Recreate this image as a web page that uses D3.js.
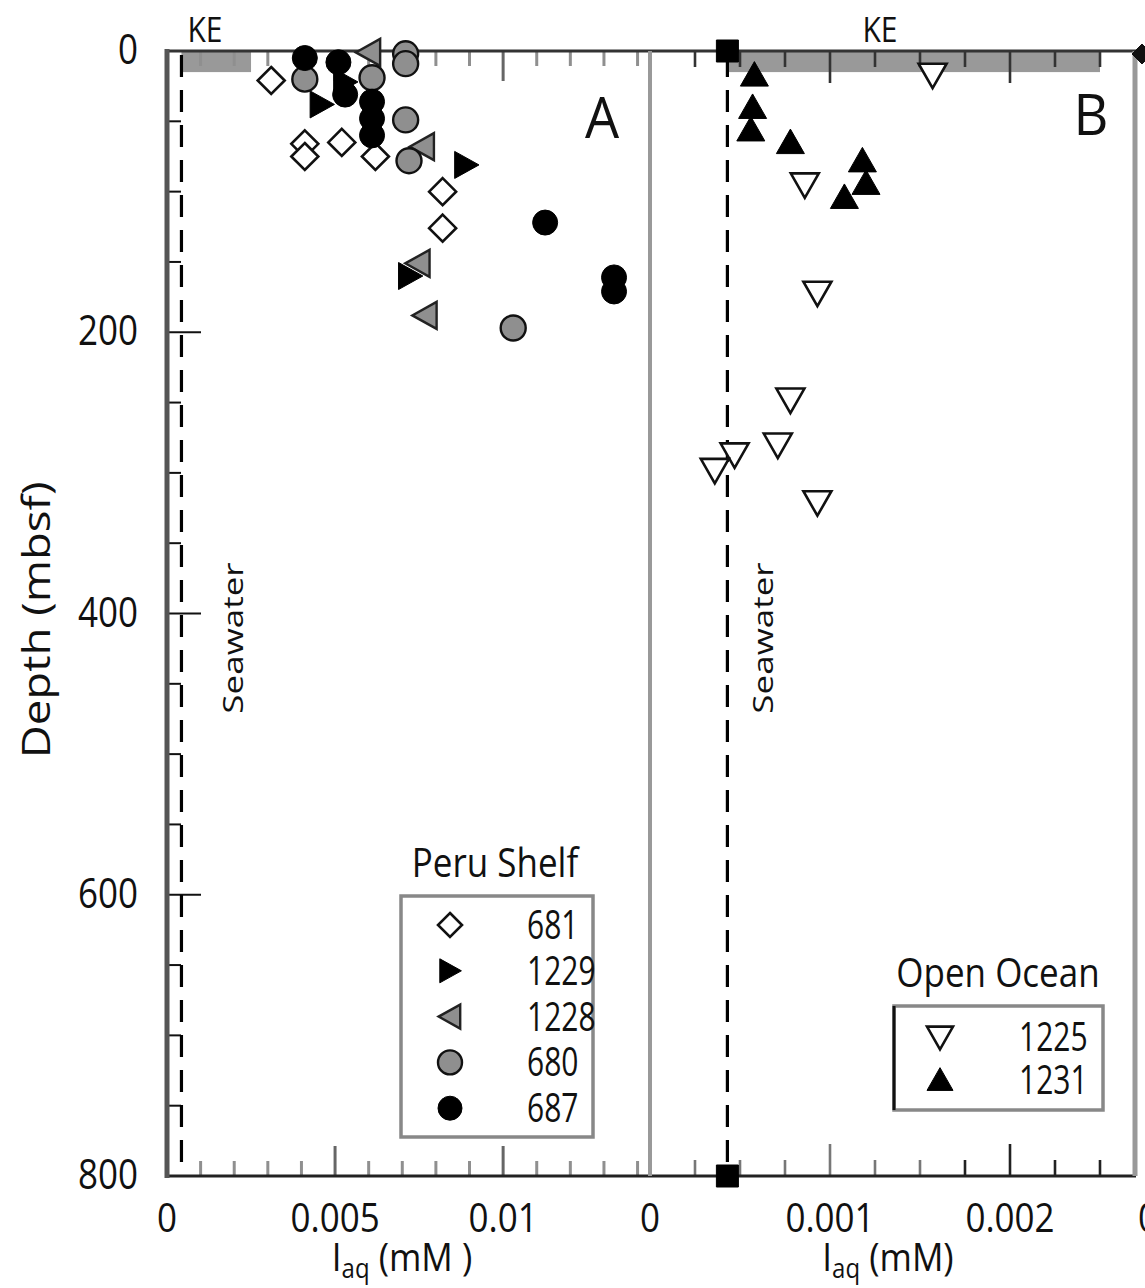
<!DOCTYPE html>
<html><head><meta charset="utf-8">
<script src="https://cdn.jsdelivr.net/npm/d3@7"></script>
<style>
body{margin:0;background:#fff}
svg{display:block}
text{font-family:"Open Sans","DejaVu Sans",sans-serif;fill:#111}
</style>
</head><body>
<script>
// ---------------- data ----------------
const depthTicks = [0, 200, 400, 600, 800];
const xTicksA = [0, 0.005, 0.01];
const xTickLabelsA = ["0", "0.005", "0.01"];
const xTicksB = [0, 0.001, 0.002];
const xTickLabelsB = ["0", "0.001", "0.002"];

// Peru Shelf (panel A): [I (mM), depth (mbsf)]
const site681  = [[0.0031,21],[0.0041,66],[0.0041,75],[0.0052,65],[0.0062,75],[0.0082,100],[0.0082,126]];
const site1228 = [[0.0060,1],[0.0076,68],[0.00747,151],[0.00768,188]];
const site1229 = [[0.0046,38],[0.0053,22],[0.0089,81],[0.00723,160]];
const site680  = [[0.0041,20],[0.0071,2],[0.0071,9],[0.0061,19],[0.0071,49],[0.0072,78],[0.0103,197]];
const site687  = [[0.0041,5],[0.0051,8],[0.0053,31],[0.0061,36],[0.0061,48],[0.0061,60],[0.01125,122],[0.0133,161],[0.0133,171]];

// Open Ocean (panel B)
const site1225 = [[0.00157,17],[0.00086,95],[0.00093,172],[0.00078,248],[0.00071,280],[0.00047,287],[0.00036,298],[0.00093,321]];
const site1231 = [[0.00058,17],[0.00057,40],[0.00056,56],[0.00078,65],[0.00118,78],[0.0012,94],[0.00108,104]];

const seawaterI = 0.00043;
const keDepth = 15;
const keRange = [0.00043, 0.0025];

const legendA = ["681", "1229", "1228", "680", "687"];
const legendB = ["1225", "1231"];

// ---------------- layout ----------------
const W = 1145, H = 1288;
const svg = d3.select("body").append("svg").attr("width", W).attr("height", H);
svg.append("rect").attr("width", W).attr("height", H).attr("fill", "#fff");

const y = d3.scaleLinear().domain([0, 800]).range([51, 1176]);
const xA = d3.scaleLinear().domain([0, 0.01437]).range([167, 650]);
const xB = d3.scaleLinear().domain([0, 0.0027]).range([650, 1136]);

const GRAY = "#8f8f8f";

function txt(g, x, yy, s, o = {}) {
  const size = o.size || 35, sy = o.sy || 1.2, anchor = o.anchor || "middle";
  let tr = `translate(${x},${yy})`;
  if (o.rotate) tr += ` rotate(${o.rotate}) scale(${sy},1)`; else tr += ` scale(1,${sy})`;
  const t = g.append("text").attr("transform", tr).attr("text-anchor", anchor)
    .attr("font-size", size);
  if (o.baseline) t.attr("dominant-baseline", o.baseline);
  t.text(s);
  return t;
}

// symbol paths
function shapePath(type, s) {
  const h = s / 2;
  switch (type) {
    case "diamond": return `M0,${-h}L${h},0L0,${h}L${-h},0Z`;
    case "right": return `M${-h*0.85},${-h}L${h*0.95},0L${-h*0.85},${h}Z`;
    case "left": return `M${h*0.85},${-h}L${-h*0.95},0L${h*0.85},${h}Z`;
    case "up": return `M0,${-h*0.95}L${h},${h*0.8}L${-h},${h*0.8}Z`;
    case "down": return `M0,${h*0.95}L${h},${-h*0.8}L${-h},${-h*0.8}Z`;
    case "square": return `M${-h},${-h}H${h}V${h}H${-h}Z`;
  }
}
const styles = {
  "681":  {type: "diamond", fill: "#fff", stroke: "#111", sw: 2.6, size: 27},
  "1229": {type: "right", fill: "#000", stroke: "#000", sw: 1, size: 27},
  "1228": {type: "left", fill: GRAY, stroke: "#222", sw: 2.4, size: 27},
  "680":  {type: "circle", fill: GRAY, stroke: "#111", sw: 2.4, size: 27},
  "687":  {type: "circle", fill: "#000", stroke: "#000", sw: 1, size: 27},
  "1225": {type: "down", fill: "#fff", stroke: "#111", sw: 2.6, size: 28},
  "1231": {type: "up", fill: "#000", stroke: "#000", sw: 1, size: 28}
};
function drawMarks(g, data, key, xs) {
  const st = styles[key];
  data.forEach(d => drawSym(g, xs(d[0]), y(d[1]), st));
}
function drawSym(g, cx, cy, st) {
  if (st.type === "circle") {
    g.append("circle").attr("cx", cx).attr("cy", cy).attr("r", st.size / 2 - 1)
      .attr("fill", st.fill).attr("stroke", st.stroke).attr("stroke-width", st.sw);
  } else {
    g.append("path").attr("d", shapePath(st.type, st.size))
      .attr("transform", `translate(${cx},${cy})`)
      .attr("fill", st.fill).attr("stroke", st.stroke).attr("stroke-width", st.sw)
      .attr("stroke-linejoin", "miter");
  }
}

// ---------------- KE bands ----------------
const gBand = svg.append("g");
gBand.append("rect").attr("x", xA(keRange[0])).attr("y", y(0))
  .attr("width", xA(keRange[1]) - xA(keRange[0])).attr("height", y(keDepth) - y(0)).attr("fill", "#999");
gBand.append("rect").attr("x", xB(keRange[0])).attr("y", y(0))
  .attr("width", xB(keRange[1]) - xB(keRange[0])).attr("height", y(keDepth) - y(0)).attr("fill", "#999");

// ---------------- ticks ----------------
const gT = svg.append("g");
// panel A top/bottom ticks
d3.range(1, 15).forEach(i => {
  const v = i * 0.001, major = i % 5 === 0, X = xA(v);
  if (X > 648) return;
  const L = major ? 30 : 15;
  gT.append("line").attr("x1", X).attr("x2", X).attr("y1", y(0)).attr("y2", y(0) + L)
    .attr("stroke", major ? "#666" : GRAY).attr("stroke-width", 3);
  gT.append("line").attr("x1", X).attr("x2", X).attr("y1", y(800)).attr("y2", y(800) - L)
    .attr("stroke", major ? "#666" : GRAY).attr("stroke-width", 3);
});
// panel B top/bottom ticks
d3.range(1, 11).forEach(i => {
  const v = i * 0.00025, major = i % 4 === 0, X = xB(v);
  const L = major ? 32 : 16;
  gT.append("line").attr("x1", X).attr("x2", X).attr("y1", y(0)).attr("y2", y(0) + L)
    .attr("stroke", "#333").attr("stroke-width", 2.6);
  gT.append("line").attr("x1", X).attr("x2", X).attr("y1", y(800)).attr("y2", y(800) - L)
    .attr("stroke", i > 6 ? "#222" : "#777").attr("stroke-width", 2.6);
});
// depth ticks on A left axis
d3.range(50, 800, 50).forEach(d => {
  const major = d % 200 === 0;
  gT.append("line").attr("x1", 167).attr("x2", major ? 201 : 181).attr("y1", y(d)).attr("y2", y(d))
    .attr("stroke", "#111").attr("stroke-width", 2);
});

// ---------------- seawater lines ----------------
[xA, xB].forEach(xs => {
  svg.append("line").attr("x1", xs(seawaterI)).attr("x2", xs(seawaterI))
    .attr("y1", y(0) + 4).attr("y2", y(800)).attr("stroke", "#000").attr("stroke-width", 3.2)
    .attr("stroke-dasharray", "22,13");
});

// ---------------- frame ----------------
const gF = svg.append("g");
gF.append("line").attr("x1", 165).attr("x2", 1136).attr("y1", y(0)).attr("y2", y(0)).attr("stroke", "#333").attr("stroke-width", 3);
gF.append("line").attr("x1", 165).attr("x2", 1136).attr("y1", y(800)).attr("y2", y(800)).attr("stroke", "#222").attr("stroke-width", 3);
gF.append("line").attr("x1", 167).attr("x2", 167).attr("y1", y(0) - 2).attr("y2", y(800) + 2).attr("stroke", "#555").attr("stroke-width", 5);
gF.append("line").attr("x1", 650).attr("x2", 650).attr("y1", y(0)).attr("y2", y(800)).attr("stroke", "#999").attr("stroke-width", 4);
gF.append("line").attr("x1", 1135).attr("x2", 1135).attr("y1", y(0)).attr("y2", y(800)).attr("stroke", "#999").attr("stroke-width", 5);

// seawater squares (panel B)
drawSym(svg, xB(seawaterI), y(0), {type: "square", fill: "#000", stroke: "#000", sw: 1, size: 22});
drawSym(svg, xB(seawaterI), y(800), {type: "square", fill: "#000", stroke: "#000", sw: 1, size: 22});
// clipped marker of neighbouring panel at top-right corner
drawSym(svg, 1142, y(0) + 3, {type: "diamond", fill: "#111", stroke: "#111", sw: 1, size: 20});

// ---------------- points ----------------
const gP = svg.append("g");
drawMarks(gP, site681, "681", xA);
drawMarks(gP, site1228, "1228", xA);
drawMarks(gP, site1229, "1229", xA);
drawMarks(gP, site680, "680", xA);
drawMarks(gP, site687, "687", xA);
drawMarks(gP, site1225, "1225", xB);
drawMarks(gP, site1231, "1231", xB);

// ---------------- labels ----------------
const gL = svg.append("g");
depthTicks.forEach(d => txt(gL, 138, y(d) + 13, String(d), {anchor: "end", size: 35}));
xTicksA.forEach((v, i) => txt(gL, xA(v), 1232, xTickLabelsA[i], {size: 35, sy: 1.15}));
xTicksB.forEach((v, i) => txt(gL, xB(v), 1232, xTickLabelsB[i], {size: 35, sy: 1.15}));
txt(gL, xB(0.0027) + 12, 1232, "0", {size: 35, sy: 1.15});

// axis titles
function xTitle(cx, closing) {
  const t = gL.append("text").attr("transform", `translate(${cx},1271) scale(1,1.1)`)
    .attr("text-anchor", "middle").attr("font-size", 35);
  t.append("tspan").text("I");
  t.append("tspan").attr("font-size", 24).attr("dy", 6).text("aq");
  t.append("tspan").attr("dy", -6).text(closing);
}
xTitle(402, " (mM )");
xTitle(888, " (mM)");
txt(gL, 50, 620, "Depth (mbsf)", {size: 38, rotate: -90, sy: 1.2});

txt(gL, 243, 638, "Seawater", {size: 28, rotate: -90, sy: 1.25});
txt(gL, 773, 638, "Seawater", {size: 28, rotate: -90, sy: 1.25});

txt(gL, 205, 42, "KE", {size: 30, sy: 1.15});
txt(gL, 880, 42, "KE", {size: 30, sy: 1.15});

txt(gL, 602, 138, "A", {size: 54, sy: 1.05});
txt(gL, 1091, 135, "B", {size: 54, sy: 1.05});

// ---------------- legends ----------------
const gA = svg.append("g");
txt(gA, 495, 877, "Peru Shelf", {size: 35, sy: 1.15});
gA.append("rect").attr("x", 401).attr("y", 896).attr("width", 192).attr("height", 241)
  .attr("fill", "#fff").attr("stroke", "#888").attr("stroke-width", 3.5);
legendA.forEach((k, i) => {
  const cy = 925 + i * 45.8;
  drawSym(gA, 450, cy, Object.assign({}, styles[k], {size: k === "680" || k === "687" ? 26 : 24}));
  txt(gA, 527, cy + 14, k, {anchor: "start", size: 30, sy: 1.35});
});

const gB = svg.append("g");
txt(gB, 998, 987, "Open Ocean", {size: 35, sy: 1.15});
gB.append("rect").attr("x", 894).attr("y", 1006).attr("width", 209).attr("height", 104)
  .attr("fill", "#fff").attr("stroke", "#888").attr("stroke-width", 3.5);
gB.append("line").attr("x1", 894).attr("x2", 894).attr("y1", 1006).attr("y2", 1110).attr("stroke", "#111").attr("stroke-width", 3);
legendB.forEach((k, i) => {
  const cy = 1037 + i * 43;
  drawSym(gB, 940, cy, Object.assign({}, styles[k], {size: 26}));
  txt(gB, 1019, cy + 14, k, {anchor: "start", size: 30, sy: 1.35});
});
</script>
</body></html>
